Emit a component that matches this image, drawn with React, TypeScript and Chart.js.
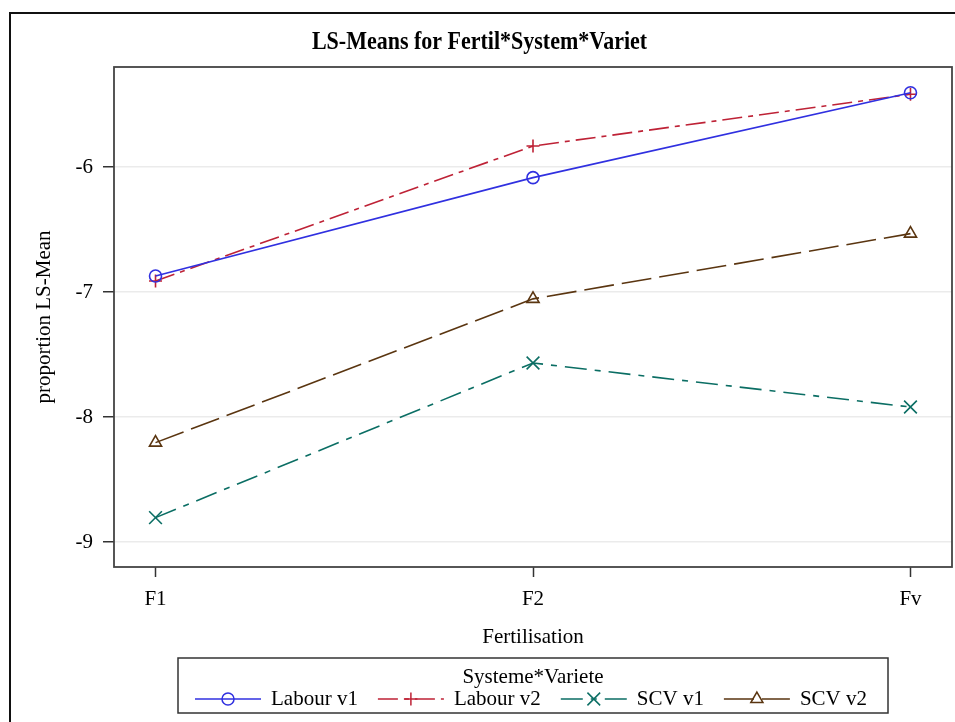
import React, { useEffect, useRef } from 'react';
import { Chart, registerables } from 'chart.js';

Chart.register(...registerables);

const chartTitle = 'LS-Means for Fertil*System*Variet';
const xAxisTitle = 'Fertilisation';
const yAxisTitle = 'proportion LS-Mean';
const legendTitle = 'Systeme*Variete';

const categories = ['F1', 'F2', 'Fv'];
const seriesNames = ['Labour v1', 'Labour v2', 'SCV v1', 'SCV v2'];
const labourV1 = [-6.872, -6.085, -5.406];
const labourV2 = [-6.912, -5.832, -5.418];
const scvV1 = [-8.805, -7.568, -7.92];
const scvV2 = [-8.205, -7.055, -6.533];
const yTicks = [-9, -8, -7, -6];

const seriesValues = [labourV1, labourV2, scvV1, scvV2];
const seriesColors = ['#3030E0', '#BE2236', '#0B6E64', '#5A3510'];
const seriesDashes: number[][] = [[], [20, 6, 5, 6], [22, 8, 6, 8], [30, 8]];
const seriesMarkers = ['circle', 'cross', 'crossRot', 'triangle'];
const markerRadius = [6, 6.5, 9, 7];

const FONT = '"Liberation Serif", "Times New Roman", serif';
const zeroPadding = () => ({ left: 0, top: 0, right: 0, bottom: 0 });

function drawMarker(ctx: CanvasRenderingContext2D, style: string, x: number, y: number, r: number, color: string) {
  ctx.save();
  ctx.setLineDash([]);
  ctx.strokeStyle = color;
  ctx.lineWidth = 1.5;
  ctx.beginPath();
  if (style === 'circle') {
    ctx.arc(x, y, r, 0, Math.PI * 2);
  } else if (style === 'cross') {
    ctx.moveTo(x - r, y); ctx.lineTo(x + r, y);
    ctx.moveTo(x, y - r); ctx.lineTo(x, y + r);
  } else if (style === 'crossRot') {
    const d = r * Math.SQRT1_2;
    ctx.moveTo(x - d, y - d); ctx.lineTo(x + d, y + d);
    ctx.moveTo(x - d, y + d); ctx.lineTo(x + d, y - d);
  } else if (style === 'triangle') {
    const hw = r * Math.sin(Math.PI / 3);
    ctx.moveTo(x, y - r);
    ctx.lineTo(x + hw, y + r / 2);
    ctx.lineTo(x - hw, y + r / 2);
    ctx.closePath();
  }
  ctx.stroke();
  ctx.restore();
}

const decorPlugin = {
  id: 'sasDecor',
  beforeDraw(chart: any) {
    const ctx: CanvasRenderingContext2D = chart.ctx;
    ctx.save();
    ctx.fillStyle = '#ffffff';
    ctx.fillRect(0, 0, chart.width, chart.height);
    ctx.strokeStyle = '#111111';
    ctx.lineWidth = 2;
    ctx.strokeRect(10, 13, chart.width + 40, chart.height + 40);
    ctx.fillStyle = '#000000';
    ctx.font = `bold 25px ${FONT}`;
    ctx.textAlign = 'center';
    ctx.textBaseline = 'middle';
    ctx.translate(chart.width / 2 + 2, 43);
    ctx.scale(0.88, 1);
    ctx.fillText(chartTitle, 0, 0);
    ctx.restore();
  },
  afterDraw(chart: any) {
    const ctx: CanvasRenderingContext2D = chart.ctx;
    const a = chart.chartArea;
    ctx.save();
    // plot frame
    ctx.strokeStyle = '#444444';
    ctx.lineWidth = 1.8;
    ctx.strokeRect(a.left, a.top, a.right - a.left, a.bottom - a.top);

    // legend
    const cx = (a.left + a.right) / 2;
    const boxW = 710;
    const boxTop = 658;
    const boxH = 55;
    ctx.strokeStyle = '#333333';
    ctx.lineWidth = 1.5;
    ctx.strokeRect(cx - boxW / 2, boxTop, boxW, boxH);
    ctx.fillStyle = '#000000';
    ctx.font = `21px ${FONT}`;
    ctx.textAlign = 'center';
    ctx.textBaseline = 'middle';
    ctx.fillText(legendTitle, cx, boxTop + 19);

    const segW = 66;
    const gapText = 10;
    const gapItem = 20;
    const widths = seriesNames.map((n) => ctx.measureText(n).width);
    const total = widths.reduce((s, w) => s + w, 0) + seriesNames.length * (segW + gapText) + (seriesNames.length - 1) * gapItem;
    let x = cx - total / 2 - 2;
    const rowY = boxTop + 41;
    ctx.textAlign = 'left';
    seriesNames.forEach((name, i) => {
      ctx.save();
      ctx.strokeStyle = seriesColors[i];
      ctx.lineWidth = 1.5;
      ctx.setLineDash(seriesDashes[i]);
      ctx.beginPath();
      ctx.moveTo(x, rowY);
      ctx.lineTo(x + segW, rowY);
      ctx.stroke();
      ctx.restore();
      drawMarker(ctx, seriesMarkers[i], x + segW / 2, rowY, markerRadius[i], seriesColors[i]);
      x += segW + gapText;
      ctx.fillStyle = '#000000';
      ctx.fillText(name, x, rowY);
      x += widths[i] + gapItem;
    });
    ctx.restore();
  },
};

export default function App() {
  const canvasRef = useRef<HTMLCanvasElement | null>(null);

  useEffect(() => {
    if (!canvasRef.current) return;
    const datasets = seriesNames.map((name, i) => ({
      label: name,
      data: seriesValues[i].map((v, k) => ({ x: k, y: v })),
      borderColor: seriesColors[i],
      backgroundColor: 'transparent',
      borderWidth: 1.6,
      borderDash: seriesDashes[i],
      pointStyle: seriesMarkers[i] as any,
      pointRadius: markerRadius[i],
      pointBorderWidth: 1.6,
      pointBorderColor: seriesColors[i],
      pointBackgroundColor: 'transparent',
      tension: 0,
      fill: false,
      clip: false as any,
    }));

    const chart = new Chart(canvasRef.current, {
      type: 'line',
      data: { datasets },
      plugins: [decorPlugin],
      options: {
        animation: false,
        responsive: false,
        layout: { autoPadding: false, padding: { left: 9, right: 3, top: 67, bottom: 65 } },
        plugins: {
          legend: { display: false },
          title: { display: false },
          tooltip: { enabled: false },
        },
        scales: {
          x: {
            type: 'linear',
            min: -0.11,
            max: 2.11,
            afterFit: (s: any) => { s.height = 90; s.paddingLeft = 0; s.paddingRight = 0; s.getPadding = zeroPadding; },
            afterBuildTicks: (s: any) => { s.ticks = categories.map((_, k) => ({ value: k })); },
            ticks: {
              callback: (v: any) => categories[v as number] ?? '',
              font: { family: FONT, size: 21 },
              color: '#000000',
              padding: 10,
              maxRotation: 0,
              autoSkip: false,
            },
            grid: {
              drawOnChartArea: false,
              tickLength: 10,
              tickColor: '#333333',
              tickWidth: 1.5,
            },
            border: { display: false },
            title: {
              display: true,
              text: xAxisTitle,
              font: { family: FONT, size: 21 },
              color: '#000000',
              padding: { top: 0, bottom: 7 },
            },
          },
          y: {
            type: 'linear',
            min: -9.2,
            max: -5.2,
            afterFit: (s: any) => { s.width = 105; s.paddingTop = 0; s.paddingBottom = 0; s.getPadding = zeroPadding; },
            afterBuildTicks: (s: any) => { s.ticks = yTicks.map((v) => ({ value: v })); },
            ticks: {
              font: { family: FONT, size: 21 },
              color: '#000000',
              padding: 10,
            },
            grid: {
              color: '#ebebeb',
              lineWidth: 1.5,
              tickLength: 11,
              tickColor: '#333333',
              tickWidth: 1.5,
            },
            border: { display: false },
            title: {
              display: true,
              text: yAxisTitle,
              font: { family: FONT, size: 21 },
              color: '#000000',
              padding: { top: 23, bottom: 0 },
            },
          },
        },
      },
    });
    return () => chart.destroy();
  }, []);

  return (
    <div style={{ position: 'fixed', left: 0, top: 0, width: 955, height: 722, background: '#fff' }}>
      <canvas ref={canvasRef} width={955} height={722} style={{ display: 'block', width: 955, height: 722 }} />
    </div>
  );
}
